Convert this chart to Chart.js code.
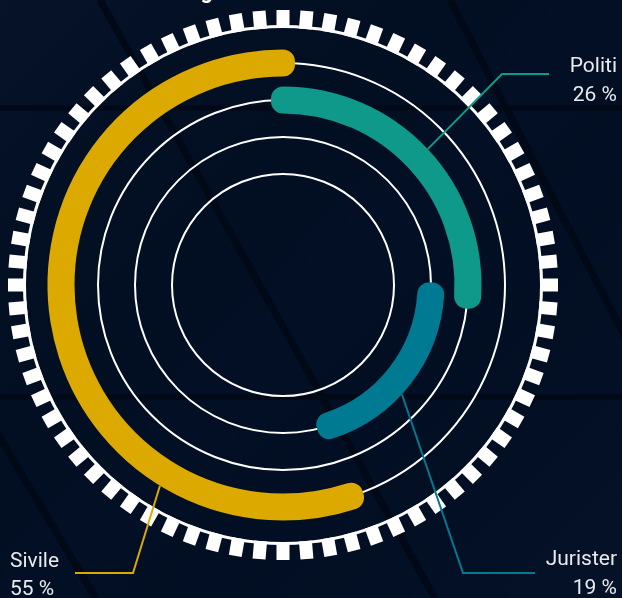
<!DOCTYPE html>
<html>
<head>
<meta charset="utf-8">
<script src="https://cdn.jsdelivr.net/npm/chart.js@4/dist/chart.umd.min.js"></script>
<style>
  html, body { margin: 0; padding: 0; background: #020f24; }
  #wrap { width: 622px; height: 598px; }
</style>
</head>
<body>
<div id="wrap"><canvas id="chart" width="622" height="598"></canvas></div>
<script>
// data
const categories = ['Politi', 'Jurister', 'Sivile'];
const shares = [26, 19, 55];
const colors = ['#0f998b', '#007a92', '#dba900'];
// ring order from outside to inside (index into categories)
const ringOrder = [2, 0, 1];

const total = shares.reduce((a, b) => a + b, 0);
const starts = [];
let acc = 0;
shares.forEach(v => { starts.push(acc); acc += v; });

const BAND = 24;      // border width that makes the thick rounded band
const FILL = 3;       // thin fill in the middle of the band
const GAP = 34;
const OUTER = 223.5;
const INNER = OUTER - (FILL * 3 + GAP * 2);

function ring(i) {
  return {
    label: categories[i],
    data: [shares[i], total - shares[i]],
    rotation: starts[i] / total * 360,
    backgroundColor: [colors[i], 'transparent'],
    borderColor: [colors[i], 'transparent'],
    borderWidth: [BAND, 0],
    borderJoinStyle: 'round',
    weight: FILL
  };
}
function spacer() {
  return { data: [1], backgroundColor: 'transparent', borderWidth: 0, weight: GAP };
}

const datasets = [];
ringOrder.forEach((ci, k) => {
  if (k > 0) datasets.push(spacer());
  datasets.push(ring(ci));
});

// labels: where the leader leaves the arc, elbow, end of line, text
const labelLayout = {
  'Politi':   { frac: 0.5,  elbow: [502, 74],  end: 549, tx: 617, align: 'right', y: [72, 101] },
  'Jurister': { frac: 0.57, elbow: [463, 573], end: 535, tx: 617, align: 'right', y: [565, 594] },
  'Sivile':   { frac: 0.25, elbow: [133, 573], end: 75,  tx: 10,  align: 'left',  y: [567, 595] }
};

const decor = {
  id: 'decor',
  beforeDraw(chart) {
    const ctx = chart.ctx;
    const W = chart.width, H = chart.height;
    ctx.save();
    ctx.fillStyle = '#020f24';
    ctx.fillRect(0, 0, W, H);
    // light panels
    const g = ctx.createLinearGradient(0, 0, W, H);
    g.addColorStop(0, 'rgba(20,35,60,0.2)');
    g.addColorStop(0.5, 'rgba(0,0,0,0)');
    g.addColorStop(1, 'rgba(20,35,60,0.15)');
    ctx.fillStyle = g;
    ctx.fillRect(0, 0, W, H);
    // seams
    ctx.strokeStyle = '#000915';
    ctx.lineWidth = 7;
    ctx.beginPath();
    ctx.moveTo(100, 0); ctx.lineTo(100 + 0.56 * H, H);
    ctx.moveTo(450, 0); ctx.lineTo(450 + 0.52 * H, H);
    ctx.moveTo(55 - 0.6 * 130, 400); ctx.lineTo(55 + 0.6 * 68, H);
    ctx.stroke();
    ctx.lineWidth = 5;
    ctx.beginPath();
    ctx.moveTo(0, 108); ctx.lineTo(W, 108);
    ctx.moveTo(0, 397); ctx.lineTo(W, 397);
    ctx.stroke();
    // title (cut off at the top)
    ctx.fillStyle = '#ffffff';
    ctx.font = 'bold 22px Roboto';
    ctx.textAlign = 'right';
    ctx.textBaseline = 'alphabetic';
    ctx.fillText('Fordeling', 213, -2);
    ctx.restore();
  },
  beforeDatasetsDraw(chart) {
    const ctx = chart.ctx;
    const a0 = chart.getDatasetMeta(0).data[0];
    const cx = a0.x, cy = a0.y;
    const radii = [];
    chart.data.datasets.forEach((ds, di) => {
      if (!ds.label) return;
      const a = chart.getDatasetMeta(di).data[0];
      radii.push((a.outerRadius + a.innerRadius) / 2);
    });
    const step = radii[0] - radii[1];
    radii.push(radii[radii.length - 1] - step);
    ctx.save();
    ctx.strokeStyle = '#ffffff';
    ctx.lineWidth = 2;
    radii.forEach(r => {
      ctx.beginPath();
      ctx.arc(cx, cy, r, 0, Math.PI * 2);
      ctx.stroke();
    });
    // outer dashed ring
    ctx.lineWidth = 3;
    ctx.beginPath();
    ctx.arc(cx, cy, 258.5, 0, Math.PI * 2);
    ctx.stroke();
    ctx.fillStyle = '#ffffff';
    for (let k = 0; k < 72; k++) {
      ctx.save();
      ctx.translate(cx, cy);
      ctx.rotate(k * Math.PI * 2 / 72);
      ctx.fillRect(-6.5, -275, 13, 18);
      ctx.restore();
    }
    ctx.restore();
  },
  afterDatasetsDraw(chart) {
    const ctx = chart.ctx;
    ctx.save();
    chart.data.datasets.forEach((ds, di) => {
      if (!ds.label) return;
      const lay = labelLayout[ds.label];
      const ci = categories.indexOf(ds.label);
      const a = chart.getDatasetMeta(di).data[0];
      const ang = a.startAngle + lay.frac * (a.endAngle - a.startAngle);
      const r = a.outerRadius + BAND / 2;
      ctx.strokeStyle = colors[ci];
      ctx.lineWidth = 2;
      ctx.beginPath();
      ctx.moveTo(a.x + r * Math.cos(ang), a.y + r * Math.sin(ang));
      ctx.lineTo(lay.elbow[0], lay.elbow[1]);
      ctx.lineTo(lay.end, lay.elbow[1]);
      ctx.stroke();
      ctx.fillStyle = '#e8eaee';
      ctx.font = '21px Roboto';
      ctx.textAlign = lay.align;
      ctx.textBaseline = 'alphabetic';
      ctx.fillText(ds.label, lay.tx, lay.y[0]);
      ctx.fillText(shares[ci] + ' %', lay.tx, lay.y[1]);
    });
    ctx.restore();
  }
};

new Chart(document.getElementById('chart').getContext('2d'), {
  type: 'doughnut',
  data: { labels: ['value', 'rest'], datasets: datasets },
  options: {
    responsive: false,
    animation: false,
    events: [],
    radius: OUTER,
    cutout: (INNER / OUTER * 100) + '%',
    layout: { padding: { left: 0, right: 56, top: 0, bottom: 28 } },
    plugins: {
      legend: { display: false },
      tooltip: { enabled: false },
      title: { display: false }
    }
  },
  plugins: [decor]
});
</script>
</body>
</html>
